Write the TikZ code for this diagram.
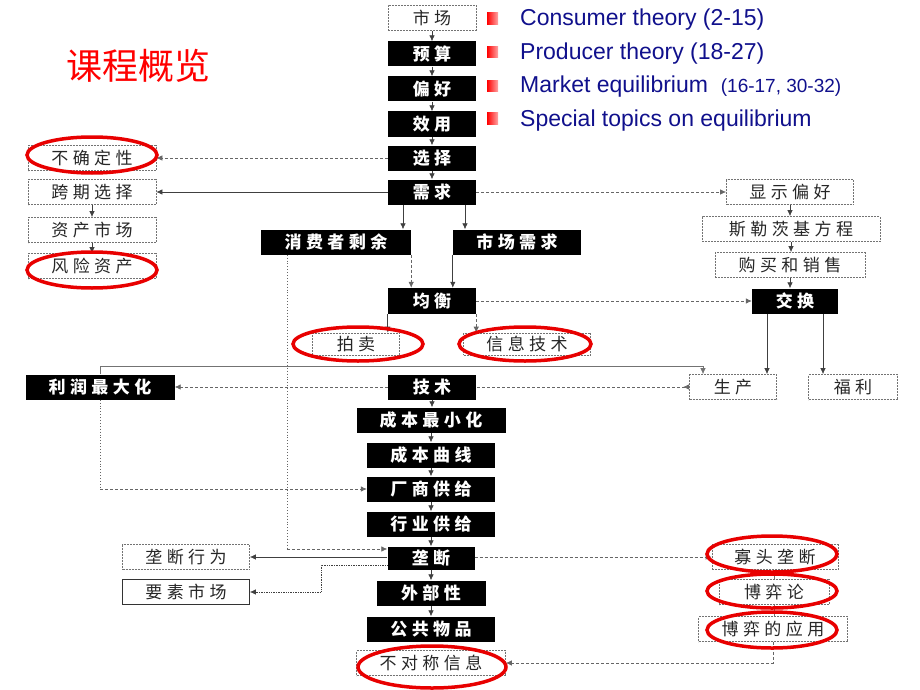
\documentclass[tikz,border=0pt]{standalone}
\usepackage{fontspec}
\setmainfont{Liberation Sans}
\newfontfamily\cjk{Noto Sans CJK SC}
\newfontfamily\boxfont[LetterSpace=26]{Noto Sans CJK SC}
\usetikzlibrary{arrows.meta}
\definecolor{navy}{RGB}{16,16,140}
\definecolor{ringred}{RGB}{232,0,0}
\tikzset{
  box/.style={minimum height=25pt, inner sep=0pt, font=\boxfont\fontsize{17}{17}\selectfont},
  blackbox/.style={box, fill=black, text=white, font=\boxfont\bfseries\fontsize{17}{17}\selectfont},
  whitebox/.style={box, draw=black!55, line width=0.7pt, dash pattern=on 2pt off 1pt, text=black!85},
  arr/.style={-{Latex[length=6pt,width=5.5pt]}, draw=black!75, line width=0.7pt},
  dashline/.style={draw=black!60, line width=0.7pt, dash pattern=on 3pt off 2pt},
  dasharr/.style={dashline, -{Latex[length=6pt,width=5.5pt]}},
  dotline/.style={draw=black!60, line width=0.9pt, dotted},
  redring/.style={draw=ringred, line width=3.5pt},
}

\begin{document}
\begin{tikzpicture}[x=1pt,y=-1pt]
	\useasboundingbox (0,0) rectangle (920,690);
	
	%%%%% TITLE AND OUTLINE %%%%%
	\node[text=red, font=\cjk\fontsize{36}{36}\selectfont] (title) at (138,66) {课程概览};
	
	\shade[left color=red, right color=red!35] (487,13) rectangle (498,25);
	\shade[left color=red, right color=red!35] (487,47) rectangle (498,58);
	\shade[left color=red, right color=red!35] (487,81) rectangle (498,92);
	\shade[left color=red, right color=red!35] (487,113) rectangle (498,125);
	
	\node[anchor=base west, inner sep=0pt, text=navy, font=\fontsize{23}{23}\selectfont] (consumer) at (520,26) {Consumer theory (2-15)};
	\node[anchor=base west, inner sep=0pt, text=navy, font=\fontsize{23}{23}\selectfont] (producer) at (520,60) {Producer theory (18-27)};
	\node[anchor=base west, inner sep=0pt, text=navy, font=\fontsize{23}{23}\selectfont] (market) at (520,93) {Market equilibrium\ \ {\fontsize{19}{19}\selectfont(16-17, 30-32)}};
	\node[anchor=base west, inner sep=0pt, text=navy, font=\fontsize{23}{23}\selectfont] (special) at (520,127) {Special topics on equilibrium};
	
	%%%%% CONSUMER COLUMN %%%%%
	\node[whitebox, minimum width=88pt] (shichang) at (432,18) {市场};
	\node[blackbox, minimum width=88pt] (yusuan) at (432,54) {预算};
	\node[blackbox, minimum width=88pt] (pianhao) at (432,89) {偏好};
	\node[blackbox, minimum width=88pt] (xiaoyong) at (432,124) {效用};
	\node[blackbox, minimum width=88pt] (xuanze) at (432,158) {选择};
	\node[blackbox, minimum width=88pt] (xuqiu) at (432,192) {需求};
	
	\node[whitebox, minimum width=128pt] (buqueding) at (92,158) {不确定性};
	\node[whitebox, minimum width=128pt] (kuaqi) at (92,192) {跨期选择};
	\node[whitebox, minimum width=128pt] (zichan) at (92,230) {资产市场};
	\node[whitebox, minimum width=128pt] (fengxian) at (92,266) {风险资产};
	
	\node[whitebox, minimum width=127pt] (xianshi) at (790,192) {显示偏好};
	\node[whitebox, minimum width=178pt] (sluciji) at (791,229) {斯勒茨基方程};
	\node[whitebox, minimum width=150pt] (goumai) at (790,265) {购买和销售};
	\node[blackbox, minimum width=86pt] (jiaohuan) at (795,301) {交换};
	\node[whitebox, minimum width=87pt] (shengchan) at (733,387) {生产};
	\node[whitebox, minimum width=89pt] (fuli) at (853,387) {福利};
	
	\node[blackbox, minimum width=150pt] (xiaofei) at (336,242) {消费者剩余};
	\node[blackbox, minimum width=128pt] (scxuqiu) at (517,242) {市场需求};
	\node[blackbox, minimum width=88pt, minimum height=26pt] (junheng) at (432,301) {均衡};
	\node[whitebox, minimum width=87pt, minimum height=22pt] (paimai) at (356,344) {拍卖};
	\node[whitebox, minimum width=127pt, minimum height=22pt] (xinxi) at (527,344) {信息技术};
	
	%%%%% PRODUCER COLUMN %%%%%
	\node[blackbox, minimum width=88pt] (jishu) at (432,387) {技术};
	\node[blackbox, minimum width=149pt] (lirun) at (100,387) {利润最大化};
	\node[blackbox, minimum width=149pt] (chengben) at (431,420) {成本最小化};
	\node[blackbox, minimum width=128pt] (quxian) at (431,455) {成本曲线};
	\node[blackbox, minimum width=128pt] (changshang) at (431,489) {厂商供给};
	\node[blackbox, minimum width=128pt] (hangye) at (431,524) {行业供给};
	\node[blackbox, minimum width=87pt, minimum height=23pt] (longduan) at (431,558) {垄断};
	\node[blackbox, minimum width=109pt] (waibu) at (431,593) {外部性};
	\node[blackbox, minimum width=128pt] (gonggong) at (431,629) {公共物品};
	\node[whitebox, minimum width=149pt] (buduichen) at (431,663) {不对称信息};
	
	\node[whitebox, minimum width=127pt] (ldxingwei) at (186,557) {垄断行为};
	\node[whitebox, minimum width=127pt, draw=black!80, solid] (yaosu) at (186,592) {要素市场};
	\node[whitebox, minimum width=126pt] (guatou) at (775,557) {寡头垄断};
	\node[whitebox, minimum width=110pt] (boyi) at (774,592) {博弈论};
	\node[whitebox, minimum width=149pt] (boyiyy) at (773,629) {博弈的应用};
	
	%%%%% CONNECTORS %%%%%
	\foreach \a/\b in {shichang/yusuan, yusuan/pianhao, pianhao/xiaoyong, xiaoyong/xuanze, xuanze/xuqiu,
	                   kuaqi/zichan, zichan/fengxian, xianshi/sluciji, sluciji/goumai, goumai/jiaohuan,
	                   jishu/chengben, chengben/quxian, quxian/changshang, changshang/hangye,
	                   hangye/longduan, longduan/waibu, waibu/gonggong}
		\draw[arr] (\a.south) -- (\a.south |- \b.north);
	
	\draw[dasharr] (xuanze.west) -- (buqueding.east);
	\draw[arr] (xuqiu.west) -- (kuaqi.east);
	\draw[dasharr] (xuqiu.east) -- (xianshi.west);
	\draw[arr] ([xshift=-29pt]xuqiu.south) -- ([xshift=-29pt]xuqiu.south |- xiaofei.north);
	\draw[arr] ([xshift=33pt]xuqiu.south) -- ([xshift=33pt]xuqiu.south |- scxuqiu.north);
	\draw[dasharr] (xiaofei.south east) -- (xiaofei.south east |- junheng.north);
	\draw[arr] (scxuqiu.south west) -- (scxuqiu.south west |- junheng.north);
	\draw[arr] (junheng.south west) -- (junheng.south west |- paimai.north);
	\draw[dasharr] (junheng.south east) -- (junheng.south east |- xinxi.north);
	\draw[dasharr] (junheng.east) -- (jiaohuan.west);
	\draw[arr] ([xshift=-28pt]jiaohuan.south) -- ([xshift=-28pt]jiaohuan.south |- shengchan.north);
	\draw[arr] ([xshift=28pt]jiaohuan.south) -- ([xshift=28pt]jiaohuan.south |- fuli.north);
	
	\coordinate (prodbend) at (703,366);
	\draw[arr, draw=black!55] (lirun.north) |- (prodbend) -- (prodbend |- shengchan.north);
	\draw[dasharr] (jishu.west) -- (lirun.east);
	\draw[dashline, {Latex[length=6pt,width=5.5pt,reversed]}-] (shengchan.west) -- (jishu.east);
	
	\coordinate (lrbend) at (100,489);
	\draw[dotline] (lirun.south) -- (lrbend);
	\draw[dasharr] (lrbend) -- (changshang.west);
	
	\coordinate (csbend) at (287,549);
	\draw[dotline] (csbend |- xiaofei.south) -- (csbend);
	\draw[dasharr] (csbend) -- (csbend -| longduan.west);
	
	\draw[arr] (longduan.west |- ldxingwei.east) -- (ldxingwei.east);
	\coordinate (ysbend) at (321,565);
	\draw[arr, densely dotted] (longduan.west |- ysbend) -- (ysbend) |- (yaosu.east);
	\draw[dasharr] (longduan.east |- guatou.west) -- (guatou.west);
	
	\draw[draw=black!55, line width=0.6pt] (guatou.south -| boyi.north) -- (boyi.north);
	\draw[draw=black!55, line width=0.6pt] (boyi.south) -- (boyi.south |- boyiyy.north);
	\coordinate (gtbend) at (773,663);
	\draw[dasharr] (boyiyy.south) -- (gtbend) -- (buduichen.east);
	
	%%%%% RED RINGS %%%%%
	\draw[redring] (92,155) ellipse (65 and 18);
	\draw[redring] (92,270) ellipse (65 and 18);
	\draw[redring] (358,344) ellipse (65 and 17);
	\draw[redring] (525,344) ellipse (66 and 17);
	\draw[redring] (772,554) ellipse (65 and 18);
	\draw[redring] (772,591) ellipse (65 and 17);
	\draw[redring] (772,630) ellipse (65 and 18);
	\draw[redring] (432,667) ellipse (74 and 21);
	
\end{tikzpicture}
\end{document}
